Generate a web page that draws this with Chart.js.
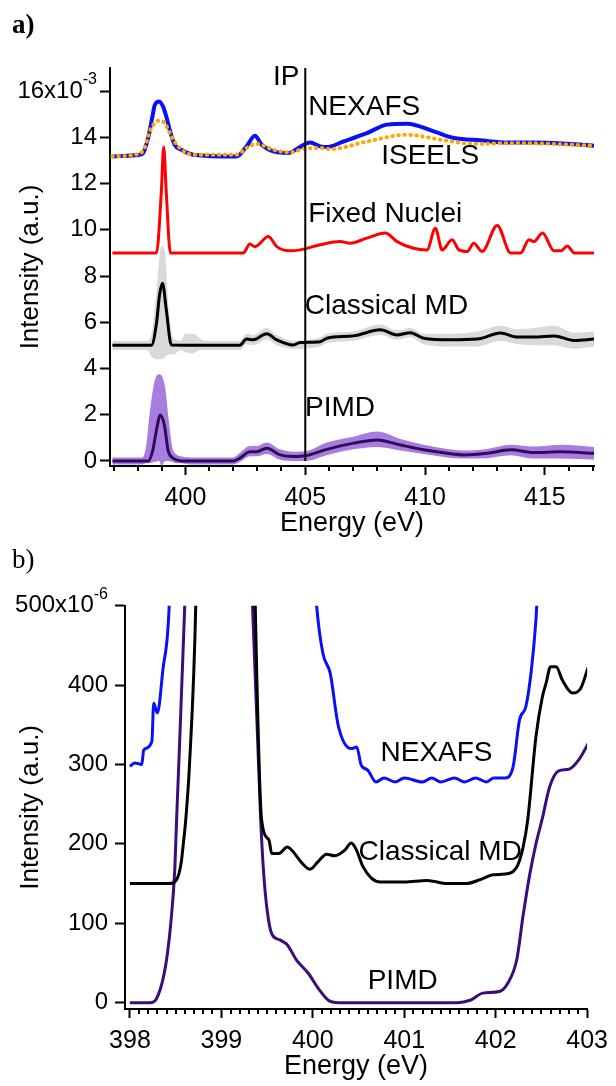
<!DOCTYPE html>
<html>
<head>
<meta charset="utf-8">
<script src="https://cdn.jsdelivr.net/npm/chart.js@4.4.0/dist/chart.umd.min.js"></script>
<style>
  body { margin: 0; background: #fff; width: 616px; height: 1086px; position: relative; overflow: hidden; }
  canvas { position: absolute; left: 0; }
  #chartA { top: 0; }
  #chartB { top: 543px; }
  .panel { position: absolute; left: 12px; font-family: "Liberation Serif", "Times New Roman", serif; font-size: 27px; z-index: 2; }
</style>
</head>
<body>
<canvas id="chartA" width="616" height="543"></canvas>
<canvas id="chartB" width="616" height="543"></canvas>
<div class="panel" style="top:9px;font-weight:bold">a)</div>
<div class="panel" style="top:544px">b)</div>
<script>
// ---------- panel a: full spectra (x10^-3) ----------
const ipEnergy = 405;

const nexafsE = [396.95, 398.09, 398.22, 398.44, 398.62, 398.72, 398.9, 399.06, 399.2, 399.34, 399.55, 399.83, 400.32, 402.13, 402.55, 402.9, 403.18, 403.67, 404.29, 404.71, 405.2, 405.62, 405.9, 406.59, 407.57, 408.41, 409.25, 410.36, 411.2, 412.31, 413.43, 414.54, 415.94, 417.05];
const nexafsI = [13.17, 13.25, 13.3, 13.97, 14.9, 15.4, 15.55, 15.34, 14.9, 14.33, 13.68, 13.46, 13.25, 13.17, 13.61, 14.07, 13.68, 13.39, 13.32, 13.54, 13.78, 13.61, 13.58, 13.82, 14.18, 14.55, 14.59, 14.26, 13.97, 13.87, 13.78, 13.78, 13.72, 13.64];

const iseelsE = [396.95, 398.09, 398.3, 398.51, 398.7, 398.85, 399.06, 399.25, 399.41, 399.76, 400.32, 402.13, 402.55, 402.97, 403.67, 404.36, 404.92, 405.62, 406.04, 407.57, 409.25, 410.64, 412.03, 413.85, 417.05];
const iseelsI = [13.17, 13.3, 13.55, 14.26, 14.6, 14.72, 14.69, 14.4, 14.04, 13.54, 13.25, 13.25, 13.54, 13.72, 13.46, 13.35, 13.5, 13.54, 13.49, 13.82, 14.11, 13.9, 13.72, 13.75, 13.64];

const fixedE = [396.95, 398.79, 398.99, 399.09, 399.2, 399.37, 402.41, 402.69, 402.9, 403.46, 403.81, 404.36, 404.78, 405.62, 406.46, 406.87, 407.57, 408.34, 408.83, 409.52, 410.08, 410.43, 410.71, 411.13, 411.41, 411.76, 412.03, 412.38, 413.01, 413.57, 413.99, 414.33, 414.54, 414.9, 415.38, 415.66, 415.94, 416.22, 417.05];
const fixedI = [9.0, 9.0, 11.6, 13.58, 11.6, 9.0, 9.0, 9.38, 9.27, 9.71, 9.27, 9.09, 9.13, 9.35, 9.49, 9.42, 9.64, 9.86, 9.49, 9.2, 9.13, 10.07, 9.13, 9.57, 9.13, 9.06, 9.42, 9.06, 10.19, 9.0, 9.0, 9.57, 9.49, 9.86, 9.09, 9.09, 9.3, 9.0, 9.0];

const classicalE = [396.95, 398.58, 398.79, 398.92, 399.04, 399.2, 399.41, 402.27, 402.55, 402.83, 403.39, 403.81, 404.5, 404.78, 405.62, 405.9, 407.01, 408.13, 408.83, 409.39, 409.94, 411.06, 412.18, 413.15, 413.85, 414.54, 415.38, 416.22, 417.05];
const classicalI = [5.0, 5.0, 5.96, 7.2, 7.69, 6.54, 5.02, 5.0, 5.27, 5.24, 5.5, 5.24, 5.02, 5.12, 5.16, 5.31, 5.41, 5.67, 5.45, 5.55, 5.31, 5.24, 5.27, 5.53, 5.36, 5.36, 5.41, 5.21, 5.27];
const classicalBandE = [396.95, 398.4, 398.6, 398.8, 399.0, 399.15, 399.3, 399.5, 399.8, 400.0, 400.3, 400.6, 400.8, 402.27, 402.55, 402.83, 403.39, 403.81, 404.5, 405.62, 405.9, 407.01, 408.13, 408.83, 409.39, 409.94, 411.06, 412.18, 413.15, 413.85, 414.54, 415.38, 416.22, 417.05];
const classicalLo = [4.8, 4.8, 4.5, 4.4, 4.4, 4.5, 4.6, 4.6, 4.8, 4.7, 4.65, 4.8, 4.8, 4.8, 5.05, 5.0, 5.25, 5.0, 4.85, 4.95, 5.1, 5.2, 5.45, 5.25, 5.35, 5.05, 4.95, 4.95, 5.2, 5.05, 5.0, 5.0, 4.85, 4.95];
const classicalHi = [5.2, 5.2, 5.6, 7.5, 9.3, 9.0, 6.5, 5.3, 5.2, 5.5, 5.5, 5.3, 5.2, 5.2, 5.5, 5.45, 5.75, 5.45, 5.2, 5.35, 5.5, 5.6, 5.9, 5.65, 5.75, 5.5, 5.5, 5.6, 5.85, 5.7, 5.75, 5.85, 5.55, 5.6];

const pimdE = [396.95, 398.45, 398.64, 398.79, 398.95, 399.13, 399.27, 399.48, 399.9, 402.0, 402.27, 402.69, 402.97, 403.39, 403.95, 404.5, 405.0, 405.9, 407.01, 407.99, 408.97, 409.94, 410.92, 411.62, 412.59, 413.57, 414.54, 415.66, 417.05];
const pimdI = [0, 0, 0.48, 1.34, 1.99, 1.49, 0.48, 0.12, 0, 0, 0.12, 0.4, 0.4, 0.55, 0.26, 0.19, 0.22, 0.5, 0.77, 0.91, 0.69, 0.48, 0.33, 0.26, 0.33, 0.48, 0.36, 0.4, 0.33];
const pimdBandE = [396.95, 398.2, 398.35, 398.5, 398.7, 398.9, 399.0, 399.15, 399.3, 399.45, 399.6, 399.8, 400.2, 402.0, 402.27, 402.69, 402.97, 403.39, 403.95, 404.5, 405.0, 405.9, 407.01, 407.99, 408.97, 409.94, 410.92, 411.62, 412.59, 413.57, 414.54, 415.66, 417.05];
const pimdLo = [-0.15, -0.15, -0.1, -0.1, -0.05, 0.0, -0.2, 0.0, 0.0, -0.05, -0.1, -0.1, -0.15, -0.15, -0.05, 0.2, 0.2, 0.3, 0.05, 0.0, 0.0, 0.25, 0.5, 0.6, 0.45, 0.3, 0.15, 0.1, 0.12, 0.25, 0.1, 0.1, 0.05];
const pimdHi = [0.15, 0.15, 0.6, 2.0, 3.4, 3.75, 3.7, 3.2, 1.8, 0.6, 0.3, 0.2, 0.15, 0.15, 0.35, 0.65, 0.65, 0.8, 0.5, 0.4, 0.42, 0.8, 1.05, 1.27, 0.95, 0.7, 0.52, 0.45, 0.52, 0.7, 0.62, 0.7, 0.6];

const aYTicks = [0, 2, 4, 6, 8, 10, 12, 14, 16];
const aXTicks = [400, 405, 410, 415];
const aXMinor = [397, 398, 399, 400, 401, 402, 403, 404, 405, 406, 407, 408, 409, 410, 411, 412, 413, 414, 415, 416, 417];

// ---------- panel b: zoom on the pre-edge (x10^-6) ----------
const bNexafsE = [398.0, 398.05, 398.13, 398.15, 398.24, 398.26, 398.3, 398.36, 398.43, 398.9, 400.04, 400.11, 400.19, 400.28, 400.42, 400.48, 400.53, 400.6, 400.69, 400.78, 400.9, 401.0, 401.2, 401.3, 401.4, 401.55, 401.66, 401.78, 401.9, 401.98, 402.1, 402.19, 402.26, 402.33, 402.39, 402.44, 402.45, 402.9, 403.0];
const bNexafsI = [297.6, 302, 300, 318, 329, 377, 365, 419, 502, 2600, 502, 440, 415, 348, 320, 322, 299, 293, 278, 283, 278, 283, 278, 283, 278, 283, 278, 283, 278, 283, 283, 297, 356, 373, 419, 482, 502, 1150, 1100];

const bClassicalE = [398.0, 398.43, 398.51, 398.56, 398.58, 398.61, 398.65, 398.72, 399.04, 399.37, 399.44, 399.52, 399.55, 399.63, 399.72, 399.77, 399.88, 399.97, 400.06, 400.15, 400.24, 400.35, 400.42, 400.47, 400.55, 400.64, 400.74, 401.0, 401.25, 401.47, 401.68, 401.83, 401.97, 402.15, 402.24, 402.3, 402.35, 402.44, 402.51, 402.55, 402.6, 402.66, 402.73, 402.84, 402.93, 403.01];
const bClassicalI = [150, 150, 155, 176, 196, 230, 297, 502, 2800, 502, 230, 205, 188, 188, 196, 192, 176, 168, 178, 187, 185, 192, 201, 194, 171, 157, 152, 152, 154, 150, 150, 155, 161, 163, 173, 196, 230, 335, 385, 402, 423, 423, 406, 390, 396, 422];

const bPimdE = [398.0, 398.22, 398.29, 398.36, 398.41, 398.45, 398.49, 398.51, 398.6, 398.95, 399.34, 399.43, 399.46, 399.5, 399.55, 399.64, 399.72, 399.82, 399.95, 400.06, 400.17, 400.28, 401.58, 401.72, 401.86, 402.04, 402.13, 402.23, 402.3, 402.37, 402.44, 402.51, 402.59, 402.69, 402.8, 402.91, 403.01];
const bPimdI = [0, 0, 5, 29, 62, 104, 167, 230, 502, 2000, 502, 230, 167, 117, 87, 79, 73, 54, 37, 18, 3, 0, 0, 3, 12, 14, 24, 54, 110, 160, 200, 232, 272, 292, 294, 306, 326];

const bYTicks = [0, 100, 200, 300, 400, 500];
const bXTicks = [398, 399, 400, 401, 402, 403];
const bXMinor = [];
for (let k = 3980; k <= 4030; k++) bXMinor.push(k / 10);

// ---------- helpers ----------
const FONT = "'Liberation Sans', Arial, sans-serif";
const xy = (xs, ys) => xs.map((x, i) => ({ x: x, y: ys[i] }));
const isIn = (v, list) => list.some(m => Math.abs(m - v) < 1e-6);

function line(xs, ys, color, width, extra) {
  return Object.assign({
    data: xy(xs, ys), borderColor: color, borderWidth: width, pointRadius: 0,
    fill: false, cubicInterpolationMode: 'monotone', order: 0
  }, extra || {});
}
function band(xs, lo, hi, color) {
  return [
    { data: xy(xs, hi), borderWidth: 0, borderColor: 'rgba(0,0,0,0)', backgroundColor: color,
      fill: '+1', pointRadius: 0, cubicInterpolationMode: 'monotone', order: 2 },
    { data: xy(xs, lo), borderWidth: 0, borderColor: 'rgba(0,0,0,0)', fill: false,
      pointRadius: 0, cubicInterpolationMode: 'monotone', order: 2 }
  ];
}

// minor x ticks (shorter than the major ones drawn by the scale)
const minorTicks = {
  id: 'minorTicks',
  afterDraw(chart, args, o) {
    const xs = chart.scales.x, ctx = chart.ctx, b = chart.chartArea.bottom;
    ctx.save();
    ctx.strokeStyle = '#000';
    ctx.lineWidth = 2;
    xs.ticks.forEach(t => {
      if (isIn(t.value, o.major)) return;
      const px = Math.round(xs.getPixelForValue(t.value));
      ctx.beginPath();
      ctx.moveTo(px, b);
      ctx.lineTo(px, b + o.length);
      ctx.stroke();
    });
    ctx.restore();
  }
};

// top y label with a superscript exponent, e.g. 16x10^-3
const expLabel = {
  id: 'expLabel',
  afterDraw(chart, args, o) {
    const ys = chart.scales.y, ctx = chart.ctx;
    const y = ys.getPixelForValue(o.value);
    const right = chart.chartArea.left - o.tick - o.pad;
    ctx.save();
    ctx.fillStyle = '#000';
    ctx.textAlign = 'right';
    ctx.font = '16px ' + FONT;
    ctx.textBaseline = 'alphabetic';
    ctx.fillText(o.exp, right, y - o.raise);
    const w = ctx.measureText(o.exp).width;
    ctx.font = '24px ' + FONT;
    ctx.textBaseline = 'middle';
    ctx.fillText(o.value + 'x10', right - w, y);
    ctx.restore();
  }
};

// curve names written next to the traces
const curveLabels = {
  id: 'curveLabels',
  afterDatasetsDraw(chart, args, o) {
    const { x, y } = chart.scales, ctx = chart.ctx;
    ctx.save();
    ctx.font = '28px ' + FONT;
    ctx.fillStyle = '#000';
    ctx.textBaseline = 'middle';
    ctx.textAlign = 'left';
    o.items.forEach(it => ctx.fillText(it.text, x.getPixelForValue(it.x), y.getPixelForValue(it.y)));
    ctx.restore();
  }
};

function baseOptions(cfg) {
  return {
    responsive: false,
    animation: false,
    layout: { padding: { left: 0, right: cfg.right, top: cfg.top, bottom: 0 } },
    plugins: {
      legend: { display: false },
      tooltip: { enabled: false },
      minorTicks: { major: cfg.xMajor, length: 5 },
      expLabel: { value: cfg.yTicks[cfg.yTicks.length - 1], exp: cfg.exp, tick: 10, pad: cfg.yPad, raise: 7 },
      curveLabels: { items: cfg.labels }
    },
    scales: {
      x: {
        type: 'linear', min: cfg.xMin, max: cfg.xMax,
        afterFit: s => { s.height = 77; },
        afterBuildTicks: s => { s.ticks = cfg.xMinor.map(v => ({ value: v })); },
        grid: { drawOnChartArea: false, tickLength: 9, tickWidth: 2,
          tickColor: c => (c.tick && isIn(c.tick.value, cfg.xMajor)) ? '#000' : 'rgba(0,0,0,0)' },
        border: { color: '#000', width: 2 },
        ticks: { autoSkip: false, maxRotation: 0, padding: 8, color: '#000', font: { family: FONT, size: 25 },
          callback: v => isIn(v, cfg.xMajor) ? String(Math.round(v)) : '' },
        title: { display: true, text: 'Energy (eV)', color: '#000', font: { family: FONT, size: 27 },
          padding: { top: 0, bottom: 3 } }
      },
      y: {
        min: cfg.yMin, max: cfg.yMax,
        afterFit: s => { s.width = cfg.left; },
        afterBuildTicks: s => { s.ticks = cfg.yTicks.map(v => ({ value: v })); },
        grid: { drawOnChartArea: false, tickLength: 10, tickWidth: 2, tickColor: '#000' },
        border: { color: '#000', width: 2 },
        ticks: { padding: cfg.yPad, color: '#000', font: { family: FONT, size: 24 },
          callback: v => v === cfg.yTicks[cfg.yTicks.length - 1] ? '' : String(v) },
        title: { display: true, text: 'Intensity (a.u.)', color: '#000', font: { family: FONT, size: 26 },
          padding: { top: 15, bottom: 0 } }
      }
    }
  };
}

// ---------- chart a ----------
new Chart(document.getElementById('chartA'), {
  type: 'line',
  data: {
    datasets: [
      line([ipEnergy, ipEnergy], [0, 17], '#000', 2, { cubicInterpolationMode: 'default' }),
      line(iseelsE, iseelsI, '#ffa500', 4, { borderDash: [0.5, 5.5], borderCapStyle: 'round' }),
      line(nexafsE, nexafsI, '#0a10f5', 4),
      line(fixedE, fixedI, '#ff0000', 3),
      line(classicalE, classicalI, '#000000', 3),
      line(pimdE, pimdI, '#2f0b5c', 3),
      ...band(classicalBandE, classicalLo, classicalHi, '#d9d9d9'),
      ...band(pimdBandE, pimdLo, pimdHi, '#a97ddf')
    ]
  },
  options: baseOptions({
    left: 110, right: 22, top: 68, xMin: 396.85, xMax: 417.05, yMin: -0.22, yMax: 17,
    xMajor: aXTicks, xMinor: aXMinor, yTicks: aYTicks, yPad: 3, exp: '-3',
    labels: [
      { text: 'IP', x: 403.65, y: 16.58 },
      { text: 'NEXAFS', x: 405.12, y: 15.32 },
      { text: 'ISEELS', x: 408.17, y: 13.16 },
      { text: 'Fixed Nuclei', x: 405.12, y: 10.65 },
      { text: 'Classical MD', x: 404.98, y: 6.67 },
      { text: 'PIMD', x: 404.99, y: 2.29 }
    ]
  }),
  plugins: [minorTicks, expLabel, curveLabels]
});

// ---------- chart b ----------
new Chart(document.getElementById('chartB'), {
  type: 'line',
  data: {
    datasets: [
      line(bNexafsE, bNexafsI, '#0a10f5', 3),
      line(bClassicalE, bClassicalI, '#000000', 3),
      line(bPimdE, bPimdI, '#3a0d7a', 3)
    ]
  },
  options: baseOptions({
    left: 125, right: 24.3, top: 62.7, xMin: 397.946, xMax: 403, yMin: -8, yMax: 500,
    xMajor: bXTicks, xMinor: bXMinor, yTicks: bYTicks, yPad: 7, exp: '-6',
    labels: [
      { text: 'NEXAFS', x: 400.74, y: 314 },
      { text: 'Classical MD', x: 400.5, y: 190 },
      { text: 'PIMD', x: 400.6, y: 27 }
    ]
  }),
  plugins: [minorTicks, expLabel, curveLabels]
});
</script>
</body>
</html>
